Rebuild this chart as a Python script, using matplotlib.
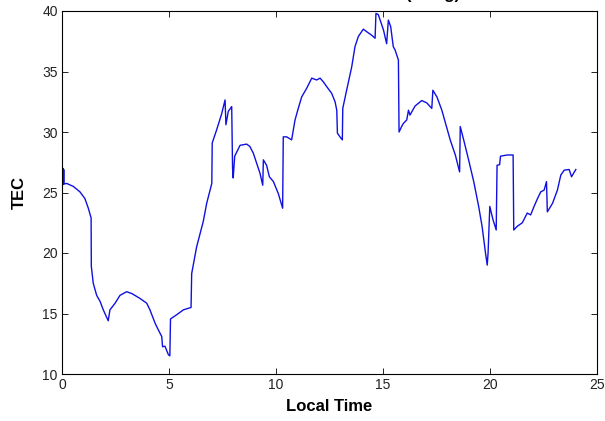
import matplotlib
matplotlib.use("Agg")
import matplotlib.pyplot as plt
import numpy as np

# local time (hours) and TEC values
local_time = [0.0, 0.02, 0.04, 0.06, 0.08, 0.1, 0.22, 0.53, 0.84, 1.07, 1.23, 1.36, 1.37,
              1.46, 1.62, 1.78, 1.93, 2.16, 2.24, 2.48, 2.71, 3.02, 3.26, 3.64, 3.96, 4.11,
              4.35, 4.5, 4.66, 4.7, 4.81, 4.97, 5.04, 5.07, 5.36, 5.67, 6.03, 6.06, 6.29,
              6.45, 6.6, 6.76, 7.0, 7.02, 7.23, 7.46, 7.62, 7.66, 7.77, 7.93, 7.97, 8.0,
              8.07, 8.32, 8.63, 8.78, 8.94, 9.1, 9.25, 9.38, 9.41, 9.56, 9.69, 9.88, 10.11,
              10.31, 10.34, 10.5, 10.73, 10.89, 11.04, 11.2, 11.43, 11.67, 11.9, 12.06,
              12.21, 12.37, 12.6, 12.76, 12.84, 12.87, 12.99, 13.1, 13.12, 13.3, 13.54,
              13.69, 13.85, 14.08, 14.23, 14.47, 14.63, 14.67, 14.78, 15.02, 15.17, 15.25,
              15.36, 15.48, 15.56, 15.72, 15.75, 15.87, 15.95, 16.11, 16.19, 16.26, 16.5,
              16.81, 17.05, 17.28, 17.33, 17.52, 17.75, 17.99, 18.14, 18.38, 18.58, 18.61,
              18.77, 19.0, 19.24, 19.47, 19.63, 19.79, 19.87, 19.91, 19.99, 20.14, 20.29,
              20.33, 20.45, 20.49, 20.8, 21.08, 21.11, 21.27, 21.51, 21.74, 21.9, 22.06,
              22.22, 22.37, 22.53, 22.64, 22.68, 22.92, 23.15, 23.31, 23.47, 23.7, 23.81,
              24.01]
tec = [27.1, 25.6, 27.0, 25.7, 26.9, 25.7, 25.75, 25.5, 25.05, 24.5, 23.7, 22.9, 18.9,
       17.5, 16.5, 16.0, 15.3, 14.4, 15.3, 15.85, 16.5, 16.8, 16.65, 16.25, 15.85, 15.3,
       14.2, 13.65, 13.1, 12.25, 12.3, 11.6, 11.5, 14.55, 14.9, 15.3, 15.5, 18.3, 20.5,
       21.6, 22.6, 24.1, 25.75, 29.1, 30.2, 31.5, 32.65, 30.6, 31.7, 32.1, 27.0, 26.2,
       28.0, 28.9, 29.0, 28.8, 28.25, 27.4, 26.6, 25.6, 27.7, 27.25, 26.3, 25.9, 24.9,
       23.7, 29.6, 29.6, 29.35, 31.0, 31.95, 32.9, 33.6, 34.45, 34.3, 34.45, 34.15,
       33.75, 33.2, 32.5, 31.8, 29.9, 29.6, 29.35, 31.95, 33.45, 35.4, 37.05, 37.9,
       38.5, 38.3, 38.0, 37.75, 39.8, 39.7, 38.45, 37.3, 39.25, 38.7, 37.05, 36.8,
       35.95, 30.0, 30.45, 30.7, 31.0, 31.8, 31.4, 32.15, 32.6, 32.4, 31.95, 33.45,
       32.9, 31.8, 30.3, 29.35, 28.1, 26.7, 30.45, 29.35, 27.7, 25.9, 23.85, 22.2,
       20.0, 19.0, 20.0, 23.85, 22.75, 21.9, 27.25, 27.3, 28.0, 28.1, 28.1, 21.9,
       22.2, 22.5, 23.3, 23.15, 23.85, 24.5, 25.05, 25.2, 25.9, 23.4, 24.1, 25.2,
       26.45, 26.85, 26.9, 26.3, 26.9]

x_ticks = [0, 5, 10, 15, 20, 25]
y_ticks = [10, 15, 20, 25, 30, 35, 40]

plt.rcParams['font.family'] = ['Liberation Sans', 'DejaVu Sans']

fig = plt.figure(figsize=(6.05, 4.21), dpi=100)
fig.set_facecolor("white")
ax = fig.add_axes([62 / 605, 1 - 374 / 421, 535 / 605, 363 / 421])

ax.plot(local_time, tec, color="#1010e0", lw=1.0)

ax.set_xlim(0, 25)
ax.set_ylim(10, 40)
ax.set_xticks(x_ticks)
ax.set_yticks(y_ticks)
ax.tick_params(direction="in", top=True, right=True, length=4, width=0.6,
               labelsize=10, pad=3, labelcolor="#222222")
for s in ax.spines.values():
    s.set_linewidth(0.8)

ax.set_xlabel("Local Time", fontsize=12, fontweight="bold", labelpad=5)
ax.set_ylabel("TEC", fontsize=12, fontweight="bold", labelpad=11)

# title is clipped at the top edge in the reference, only its bottom shows
fig.text(285 / 605, 1.0 + 1 / 421, "Diurnal Variation of TEC on 23 March (Vizag)",
         ha="center", va="baseline", fontsize=12, fontweight="bold")

fig.savefig("out.png", dpi=100)
